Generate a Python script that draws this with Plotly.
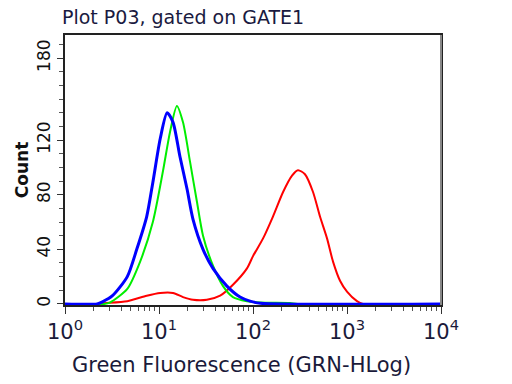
import plotly.graph_objects as go

# Fluorescence (GRN-HLog) and counts
blue_x = [1, 2.2, 2.5, 3.2, 4.6, 5.8, 7.4, 8.6, 10.3, 12.2, 14.1, 16.7, 19.9, 23.0, 29.4, 37.5, 52.8, 72.8, 92.9, 120, 10000]
blue_y = [0, 0, 1.5, 6, 20, 40, 64, 89, 121, 140, 133, 108, 84, 62, 40, 26, 13, 5, 2, 0.5, 0]

green_x = [1, 2.6, 3.0, 4.6, 6.3, 8.6, 11.0, 13.1, 15.5, 18.0, 21.4, 25.3, 29.4, 37.5, 48.0, 61.2, 86.3, 119, 247, 300, 10000]
green_y = [0, 0, 1, 11, 31, 60, 97, 126, 145, 133, 104, 75, 50, 28, 13, 5, 2, 1, 0.6, 0, 0]

red_x = [1, 2.2, 2.5, 4.6, 7.4, 10.3, 14.1, 18.0, 23.0, 32.3, 44.7, 61.2, 86.3, 100, 128, 163, 209, 260, 301, 357, 435, 516, 613, 710, 843, 1000, 1277, 1479, 10000]
red_y = [0, 0, 0.5, 2, 6, 8, 8, 5, 3, 3, 6, 14, 26, 35, 48, 64, 82, 94, 98, 95, 82, 64, 48, 31, 17, 9, 2, 0, 0]

x_tickvals = [1, 10, 100, 1000, 10000]
x_ticktext = ["10<sup>0</sup>", "10<sup>1</sup>", "10<sup>2</sup>", "10<sup>3</sup>", "10<sup>4</sup>"]
x_minor = [m * d for d in [1, 10, 100, 1000] for m in range(2, 10)]
y_tickvals = [0, 40, 80, 120, 180]

fig = go.Figure()
fig.add_trace(go.Scatter(x=red_x, y=red_y, mode="lines", line=dict(color="#ff0000", width=2, shape="spline", smoothing=0.7)))
fig.add_trace(go.Scatter(x=green_x, y=green_y, mode="lines", line=dict(color="#00ee00", width=2, shape="spline", smoothing=0.7)))
fig.add_trace(go.Scatter(x=blue_x, y=blue_y, mode="lines", line=dict(color="#0000ff", width=3, shape="spline", smoothing=0.7)))

font = "DejaVu Sans"
fig.update_layout(
    width=512, height=384,
    margin=dict(l=65, r=71, t=35, b=79),
    paper_bgcolor="white", plot_bgcolor="white",
    showlegend=False,
    font=dict(family=font, color="#1a1a3a"),
    title=dict(text="Plot P03, gated on GATE1", x=62/512, xanchor="left",
               y=1 - 17/384, yanchor="middle", font=dict(size=19, family=font, color="#1a1a40")),
)
fig.update_xaxes(
    type="log", range=[0, 4],
    tickvals=x_tickvals, ticktext=x_ticktext,
    ticks="outside", ticklen=7, tickcolor="#333",
    tickfont=dict(size=21, family=font, color="#1a1a3a"),
    minor=dict(tickvals=x_minor, ticks="outside", ticklen=4, tickcolor="#555"),
    showgrid=False, zeroline=False,
    showline=True, linecolor="#222", linewidth=1.5, mirror=True,
)
fig.update_yaxes(
    range=[-0.8, 197],
    tickvals=y_tickvals, ticktext=[str(v) for v in y_tickvals],
    tickangle=-90,
    ticks="outside", ticklen=6, tickcolor="#333",
    tickfont=dict(size=17, family=font, color="#111"),
    minor=dict(dtick=10, ticks="outside", ticklen=4, tickcolor="#555"),
    showgrid=False, zeroline=False,
    showline=True, linecolor="#222", linewidth=1.5, mirror=True,
    title=dict(text="<b>Count</b>", font=dict(size=17, family=font, color="#111"), standoff=2),
)
fig.add_annotation(text="Green Fluorescence (GRN-HLog)", xref="paper", yref="paper",
                   x=(241 - 65) / 376, y=-(365 - 305) / 270, xanchor="center", yanchor="middle",
                   showarrow=False, font=dict(size=21, family=font, color="#1a1a3a"))
fig.add_shape(type="line", xref="paper", yref="paper", x0=1, x1=1, y0=0, y1=1,
              line=dict(color="#888", width=2))
fig.write_html("out.html")
